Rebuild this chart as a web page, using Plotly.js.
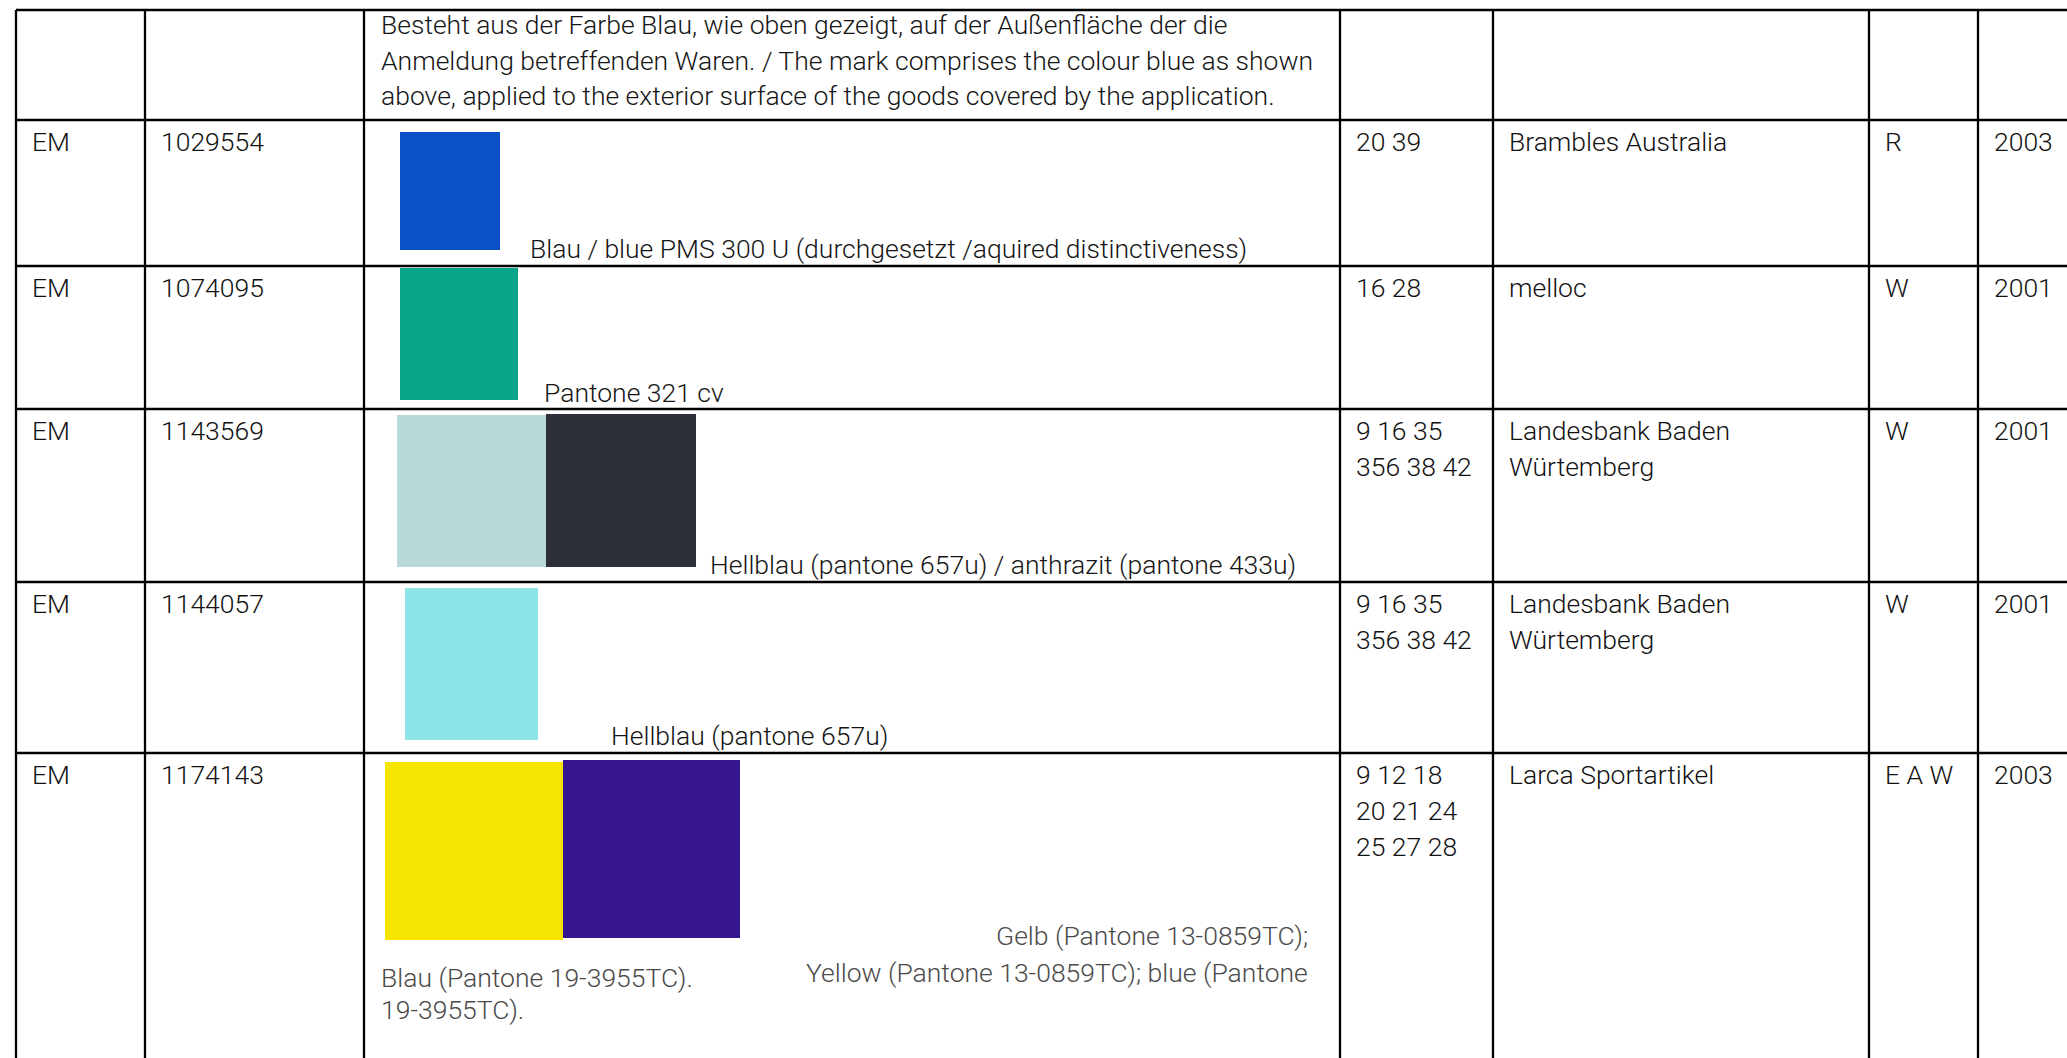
<!DOCTYPE html>
<html>
<head>
<meta charset="utf-8">
<script src="https://cdn.plot.ly/plotly-3.0.1.min.js"></script>
<style>
  html, body { margin: 0; padding: 0; background: #ffffff; }
  #chart { width: 2067px; height: 1058px; }
</style>
</head>
<body>
<div id="chart"></div>
<script>
// ---------------- DATA ----------------
const offices = ['', 'EM', 'EM', 'EM', 'EM', 'EM'];
const numbers = ['', '1029554', '1074095', '1143569', '1144057', '1174143'];
const classes = ['', '20 39', '16 28', '9 16 35\n356 38 42', '9 16 35\n356 38 42', '9 12 18\n20 21 24\n25 27 28'];
const owners = ['', 'Brambles Australia', 'melloc', 'Landesbank Baden\nWürtemberg', 'Landesbank Baden\nWürtemberg', 'Larca Sportartikel'];
const markTypes = ['', 'R', 'W', 'W', 'W', 'E A W'];
const years = ['', '2003', '2001', '2001', '2001', '2003'];
const captions = [
  ['Besteht aus der Farbe Blau, wie oben gezeigt, auf der Außenfläche der die',
   'Anmeldung betreffenden Waren. / The mark comprises the colour blue as shown',
   'above, applied to the exterior surface of the goods covered by the application.'],
  ['Blau / blue PMS 300 U (durchgesetzt /aquired distinctiveness)'],
  ['Pantone 321 cv'],
  ['Hellblau (pantone 657u) / anthrazit (pantone 433u)'],
  ['Hellblau (pantone 657u)'],
  ['Gelb (Pantone 13-0859TC);', 'Yellow (Pantone 13-0859TC); blue (Pantone',
   'Blau (Pantone 19-3955TC).', '19-3955TC).']
];
const swatchColors = [
  [],
  ['#0b50c5'],
  ['#0aa48a'],
  ['#b9d8d8', '#2e3039'],
  ['#8de5e8'],
  ['#f5e500', '#36168f']
];

// ---------------- LAYOUT GEOMETRY ----------------
const W = 2067, H = 1058;
const colEdges = [16, 145, 364, 1340, 1493, 1869, 1978];
const rowEdges = [10, 120, 266, 409, 582, 753];
const pad = 15;
const firstBaseline = 31;
const lineStep = 36;
const FS = 26.5;
const FONT = {family: 'Roboto, "Liberation Sans", Arial, sans-serif', size: FS, color: '#111111', weight: 300};
const GREY = '#4a4a4a';

// swatch boxes [x0, y0, x1, y1] per row, per colour
const swatchBoxes = [
  [],
  [[400, 132, 500, 250]],
  [[400, 268, 518, 400]],
  [[397, 415, 546, 567], [546, 414, 696, 567]],
  [[405, 588, 538, 740]],
  [[385, 762, 563, 940], [563, 760, 740, 938]]
];
// caption placements: [x, baseline, anchor, grey?]
const captionPos = [
  [[380, 34, 'left', 0], [380, 70, 'left', 0], [380, 105, 'left', 0]],
  [[529, 258, 'left', 0]],
  [[543, 402, 'left', 0]],
  [[709, 574, 'left', 0]],
  [[610, 745, 'left', 0]],
  [[1309, 945, 'right', 1], [1309, 982, 'right', 1], [380, 987, 'left', 1], [380, 1019, 'left', 1]]
];

// ---------------- BUILD ----------------
const shapes = [];
const annotations = [];

function textAt(x, baseline, txt, anchor, color) {
  annotations.push({
    x: x, y: baseline - 0.36 * FS, xref: 'x', yref: 'y',
    text: txt, showarrow: false, xanchor: anchor, yanchor: 'middle',
    align: anchor, font: Object.assign({}, FONT, {color: color || FONT.color}),
    borderpad: 0
  });
}

// swatches
swatchColors.forEach((cols, r) => {
  cols.forEach((c, k) => {
    const b = swatchBoxes[r][k];
    shapes.push({type: 'rect', xref: 'x', yref: 'y', x0: b[0], y0: b[1], x1: b[2], y1: b[3],
      fillcolor: c, line: {width: 0}, layer: 'below'});
  });
});

// grid lines
rowEdges.forEach(y => {
  shapes.push({type: 'line', xref: 'x', yref: 'y', x0: colEdges[0], x1: W, y0: y, y1: y,
    line: {color: '#000000', width: 2.3}});
});
colEdges.forEach(x => {
  shapes.push({type: 'line', xref: 'x', yref: 'y', x0: x, x1: x, y0: rowEdges[0], y1: H,
    line: {color: '#000000', width: 2.3}});
});

// cell text
const columns = [offices, numbers, null, classes, owners, markTypes, years];
for (let r = 0; r < offices.length; r++) {
  columns.forEach((col, c) => {
    if (!col || !col[r]) return;
    const lines = col[r].split('\n');
    lines.forEach((ln, i) => {
      textAt(colEdges[c] + pad, rowEdges[r] + firstBaseline + i * lineStep, ln, 'left');
    });
  });
}

// captions
captions.forEach((lines, r) => {
  lines.forEach((ln, i) => {
    const p = captionPos[r][i];
    textAt(p[0], p[1], ln, p[2], p[3] ? GREY : '#151515');
  });
});

const layout = {
  width: W, height: H,
  margin: {l: 0, r: 0, t: 0, b: 0, pad: 0},
  paper_bgcolor: '#ffffff', plot_bgcolor: '#ffffff',
  xaxis: {range: [0, W], visible: false, fixedrange: true},
  yaxis: {range: [H, 0], visible: false, fixedrange: true},
  showlegend: false,
  shapes: shapes,
  annotations: annotations
};

Plotly.newPlot('chart', [], layout, {staticPlot: true, displayModeBar: false});
</script>
</body>
</html>
